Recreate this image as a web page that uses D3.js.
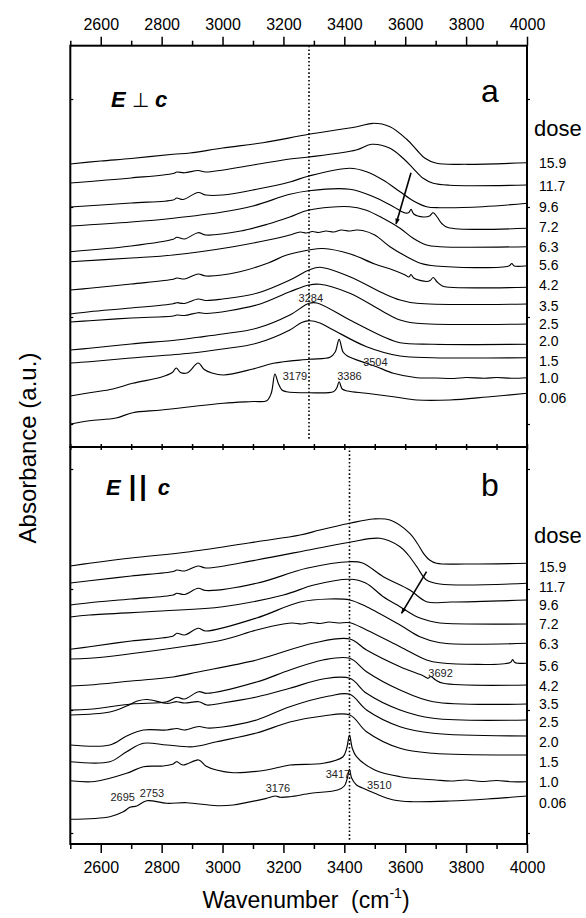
<!DOCTYPE html>
<html><head><meta charset="utf-8">
<script src="https://cdn.jsdelivr.net/npm/d3@7"></script>
<style>
body{margin:0;background:#fff}
svg{display:block}
text{font-family:"Liberation Sans",Arial,Helvetica,sans-serif;fill:#000}
</style>
</head><body>
<svg id="chart" width="586" height="918"></svg>
<script>
// ---------- DATA ----------
const doses = ["15.9","11.7","9.6","7.2","6.3","5.6","4.2","3.5","2.5","2.0","1.5","1.0","0.06"];
const xMajorTicks = [2600,2800,3000,3200,3400,3600,3800,4000];
const xMinorTicks = [2500,2700,2900,3100,3300,3500,3700,3900];
const yTicksA = [0.23,1.30,2.40,3.48];
const yTicksB = [0.11,1.34,2.55,3.75];
const doseLabelPosA = [2.843,2.61,2.403,2.203,2.003,1.82,1.62,1.41,1.23,1.063,0.863,0.693,0.493];
const doseLabelPosB = [2.773,2.573,2.39,2.20,2.00,1.78,1.58,1.397,1.217,1.017,0.817,0.623,0.413];

// Panel a: E perpendicular c  [wavenumber, absorbance]
const spectraA = [
 [[2500,2.83],[2600,2.86],[2700,2.885],[2838,2.927],[2893,2.94],[3000,2.99],[3133,3.043],[3284,3.127],[3441,3.203],[3494,3.237],[3550,3.203],[3605,3.077],[3638,2.97],[3665,2.887],[3703,2.837],[3802,2.827],[4000,2.843]],
 [[2500,2.64],[2700,2.69],[2838,2.735],[2850,2.75],[2875,2.742],[2920,2.765],[2945,2.75],[3100,2.82],[3221,2.88],[3284,2.90],[3439,2.97],[3490,3.027],[3550,2.987],[3593,2.887],[3626,2.787],[3659,2.687],[3692,2.637],[3747,2.617],[4000,2.62]],
 [[2500,2.40],[2700,2.44],[2838,2.47],[2850,2.49],[2870,2.475],[2920,2.545],[2945,2.52],[3000,2.52],[3112,2.577],[3221,2.65],[3284,2.71],[3418,2.787],[3473,2.753],[3527,2.67],[3583,2.553],[3626,2.463],[3670,2.403],[3714,2.393],[3855,2.403],[4000,2.437]],
 [[2500,2.21],[2700,2.25],[2838,2.288],[3000,2.35],[3100,2.41],[3221,2.527],[3284,2.563],[3418,2.577],[3496,2.503],[3561,2.403],[3600,2.34],[3612,2.345],[3619,2.377],[3628,2.33],[3660,2.30],[3680,2.31],[3692,2.343],[3705,2.30],[3720,2.235],[3740,2.195],[4000,2.187]],
 [[2500,1.953],[2700,2.01],[2838,2.077],[2850,2.097],[2875,2.08],[2920,2.143],[2945,2.12],[3060,2.16],[3150,2.23],[3221,2.30],[3284,2.37],[3418,2.403],[3470,2.37],[3527,2.287],[3583,2.187],[3626,2.087],[3670,2.02],[3714,2.003],[4000,2.003]],
 [[2500,1.853],[2700,1.89],[2838,1.92],[3035,2.003],[3150,2.07],[3221,2.12],[3255,2.15],[3275,2.14],[3295,2.155],[3315,2.145],[3340,2.16],[3365,2.15],[3390,2.17],[3415,2.16],[3440,2.17],[3460,2.165],[3500,2.12],[3550,2.003],[3605,1.903],[3650,1.837],[3700,1.81],[3940,1.81],[3950,1.835],[3958,1.81],[4000,1.813]],
 [[2500,1.57],[2563,1.587],[2700,1.63],[2838,1.677],[2850,1.69],[2875,1.68],[2920,1.73],[2945,1.71],[3057,1.753],[3150,1.84],[3211,1.92],[3284,1.97],[3330,1.985],[3420,1.93],[3500,1.83],[3560,1.77],[3600,1.72],[3612,1.70],[3619,1.725],[3628,1.69],[3670,1.655],[3682,1.665],[3692,1.695],[3705,1.65],[3722,1.61],[3745,1.597],[4000,1.597]],
 [[2500,1.33],[2563,1.353],[2700,1.39],[2838,1.433],[2850,1.443],[2875,1.435],[2920,1.48],[2945,1.465],[3000,1.48],[3112,1.537],[3221,1.67],[3284,1.77],[3320,1.797],[3418,1.703],[3528,1.537],[3583,1.47],[3638,1.437],[4000,1.43]],
 [[2500,1.25],[2563,1.263],[2700,1.29],[2838,1.31],[2850,1.32],[2875,1.315],[2920,1.343],[2945,1.335],[3112,1.42],[3221,1.553],[3284,1.62],[3320,1.627],[3418,1.537],[3528,1.353],[3583,1.27],[3638,1.237],[4000,1.23]],
 [[2500,0.97],[2563,0.987],[2700,1.03],[2850,1.07],[2920,1.097],[3000,1.13],[3112,1.187],[3221,1.32],[3284,1.437],[3310,1.44],[3418,1.27],[3528,1.103],[3583,1.043],[3690,1.027],[4000,1.027]],
 [[2500,0.84],[2563,0.853],[2700,0.89],[2892,0.937],[3000,0.98],[3112,1.037],[3221,1.17],[3260,1.245],[3287,1.263],[3320,1.24],[3364,1.17],[3473,1.003],[3583,0.91],[3690,0.893],[4000,0.893]],
 [[2500,0.51],[2563,0.543],[2640,0.58],[2705,0.637],[2800,0.70],[2835,0.745],[2848,0.79],[2862,0.745],[2885,0.743],[2920,0.84],[2940,0.775],[2965,0.74],[3003,0.72],[3100,0.78],[3167,0.837],[3284,0.877],[3353,0.897],[3370,0.95],[3383,1.077],[3396,0.95],[3410,0.91],[3473,0.837],[3506,0.803],[3561,0.737],[3638,0.693],[3700,0.69],[3760,0.685],[3800,0.695],[3860,0.688],[3900,0.695],[3950,0.688],[4000,0.693]],
 [[2500,0.23],[2563,0.263],[2650,0.29],[2705,0.343],[2800,0.37],[3003,0.437],[3100,0.455],[3145,0.463],[3160,0.537],[3172,0.73],[3183,0.637],[3195,0.57],[3210,0.553],[3284,0.543],[3364,0.553],[3375,0.59],[3383,0.653],[3393,0.58],[3410,0.56],[3473,0.537],[3561,0.503],[3638,0.47],[3747,0.47],[3870,0.50],[4000,0.537]]
];

// Panel b: E parallel c
const spectraB = [
 [[2500,2.78],[2563,2.807],[2700,2.86],[2893,2.923],[3112,3.023],[3255,3.09],[3320,3.14],[3418,3.207],[3495,3.25],[3550,3.24],[3615,3.107],[3640,3.005],[3660,2.907],[3680,2.84],[3703,2.807],[3800,2.80],[4000,2.807]],
 [[2500,2.61],[2563,2.633],[2700,2.68],[2838,2.725],[2850,2.74],[2875,2.73],[2920,2.78],[2945,2.76],[3112,2.84],[3300,2.95],[3418,3.017],[3517,3.057],[3583,2.973],[3610,2.89],[3638,2.773],[3670,2.64],[3714,2.60],[4000,2.607]],
 [[2500,2.39],[2563,2.413],[2700,2.45],[2838,2.49],[2850,2.507],[2875,2.495],[2920,2.557],[2945,2.535],[3112,2.607],[3276,2.757],[3418,2.823],[3460,2.81],[3528,2.673],[3615,2.54],[3670,2.423],[3750,2.42],[4000,2.44]],
 [[2500,2.27],[2563,2.29],[2800,2.33],[3001,2.373],[3200,2.49],[3300,2.59],[3418,2.647],[3470,2.61],[3528,2.473],[3583,2.373],[3638,2.273],[3680,2.23],[3714,2.21],[4000,2.20]],
 [[2500,1.947],[2563,1.973],[2700,2.03],[2838,2.08],[2850,2.107],[2875,2.09],[2920,2.157],[2945,2.13],[3112,2.26],[3255,2.42],[3350,2.45],[3418,2.44],[3473,2.373],[3583,2.19],[3648,2.073],[3714,2.013],[4000,2.007]],
 [[2500,1.85],[2563,1.857],[2838,1.96],[3000,2.04],[3112,2.14],[3200,2.20],[3230,2.21],[3260,2.20],[3290,2.215],[3320,2.205],[3350,2.22],[3380,2.21],[3418,2.213],[3473,2.14],[3583,1.973],[3670,1.84],[3714,1.813],[3945,1.815],[3953,1.845],[3960,1.815],[4000,1.807]],
 [[2500,1.58],[2563,1.59],[2700,1.63],[2838,1.67],[2920,1.72],[3112,1.84],[3300,2.01],[3418,2.05],[3473,1.94],[3583,1.773],[3660,1.68],[3675,1.657],[3684,1.675],[3700,1.64],[3725,1.607],[4000,1.59]],
 [[2500,1.34],[2563,1.347],[2700,1.40],[2817,1.423],[2850,1.467],[2875,1.45],[2922,1.523],[2948,1.507],[3112,1.62],[3221,1.74],[3330,1.84],[3418,1.857],[3473,1.723],[3583,1.54],[3692,1.423],[4000,1.40]],
 [[2500,1.29],[2630,1.32],[2685,1.38],[2720,1.43],[2753,1.445],[2817,1.407],[2850,1.423],[2875,1.41],[2922,1.423],[2948,1.39],[3000,1.41],[3112,1.47],[3221,1.557],[3330,1.65],[3418,1.657],[3473,1.507],[3583,1.34],[3692,1.257],[4000,1.24]],
 [[2500,0.99],[2630,0.99],[2685,1.08],[2740,1.14],[2817,1.14],[2850,1.155],[2875,1.14],[2922,1.175],[2950,1.16],[3000,1.17],[3112,1.24],[3221,1.373],[3350,1.48],[3418,1.497],[3473,1.34],[3583,1.173],[3692,1.107],[4000,1.08]],
 [[2500,0.823],[2630,0.823],[2685,0.923],[2740,1.007],[2817,0.99],[2904,0.973],[2981,1.023],[3112,1.11],[3221,1.22],[3330,1.28],[3418,1.29],[3473,1.123],[3583,0.957],[3692,0.907],[4000,0.89]],
 [[2500,0.633],[2580,0.625],[2685,0.707],[2740,0.773],[2805,0.78],[2838,0.80],[2849,0.823],[2870,0.79],[2922,0.84],[2945,0.78],[2980,0.74],[3035,0.713],[3145,0.74],[3221,0.79],[3331,0.807],[3395,0.87],[3408,0.96],[3417,1.09],[3426,0.96],[3440,0.873],[3500,0.74],[3583,0.673],[3700,0.64],[3750,0.63],[3800,0.64],[3850,0.625],[3900,0.635],[3950,0.622],[4000,0.623]],
 [[2500,0.247],[2630,0.273],[2674,0.323],[2696,0.367],[2718,0.38],[2751,0.433],[2817,0.407],[2882,0.413],[2981,0.383],[3035,0.39],[3145,0.457],[3174,0.48],[3190,0.467],[3221,0.473],[3291,0.507],[3378,0.54],[3400,0.58],[3410,0.66],[3417,0.747],[3424,0.66],[3440,0.59],[3460,0.56],[3500,0.507],[3562,0.44],[3624,0.423],[3747,0.43],[3870,0.45],[4000,0.48]]
];

// peak annotations: [text, wavenumber, absorbance]
const peakLabelsA = [["3284",3290,1.493],["3179",3238,0.71],["3386",3417,0.71],["3504",3502,0.853]];
const peakLabelsB = [["3692",3716,1.707],["3417",3379,0.70],["3510",3515,0.59],["3176",3182,0.557],["2695",2672,0.467],["2753",2768,0.507]];
// dotted reference lines: [wavenumber, from absorbance, to absorbance]
const refLineA = [3284, 4.013, 0.07];
const refLineB = [3417, 3.973, 0.04];
// dose-trend arrows: [[w1,A1],[w2,A2]]
const arrowA = [[3619,2.743],[3570,2.23]];
const arrowB = [[3670,2.723],[3588,2.307]];

// ---------- LAYOUT ----------
const X0 = 70.3, X1 = 527, TOP = 45.7, MID = 447, BOT = 844;
const svg = d3.select("#chart");
const x = d3.scaleLinear().domain([2500,4000]).range([X0,X1]);

svg.append("defs").append("marker")
  .attr("id","ah").attr("viewBox","0 0 10 10").attr("refX",9).attr("refY",5)
  .attr("markerWidth",6).attr("markerHeight",6).attr("markerUnits","userSpaceOnUse")
  .attr("orient","auto")
  .append("path").attr("d","M0,1.2 L10,5 L0,8.8 Z").attr("fill","#000");

function panel(cfg){
  const y = d3.scaleLinear().domain(cfg.domain).range([cfg.bottom, cfg.top]);
  const g = svg.append("g");
  const line = d3.line().x(d=>x(d[0])).y(d=>y(d[1])).curve(d3.curveCatmullRom.alpha(0.5));

  g.append("line")
    .attr("x1",x(cfg.ref[0])).attr("x2",x(cfg.ref[0]))
    .attr("y1",y(cfg.ref[1])).attr("y2",y(cfg.ref[2]))
    .attr("stroke","#000").attr("stroke-width",1.6).attr("stroke-dasharray","1.6,2.2");

  g.selectAll("path.spec").data(cfg.spectra).join("path")
    .attr("class","spec").attr("d",line)
    .attr("fill","none").attr("stroke","#000").attr("stroke-width",1.15);

  g.append("text").attr("x",534).attr("y",cfg.top+cfg.doseDy)
    .attr("font-size",22).text("dose");
  g.selectAll("text.dl").data(doses).join("text").attr("class","dl")
    .attr("x",539).attr("y",(d,i)=>y(cfg.labelPos[i])).attr("dy","0.36em")
    .attr("font-size",14).text(d=>d);

  g.selectAll("text.pk").data(cfg.peaks).join("text").attr("class","pk")
    .attr("x",d=>x(d[1])).attr("y",d=>y(d[2])).attr("dy","0.36em")
    .attr("text-anchor","middle").attr("font-size",11).style("fill","#222")
    .text(d=>d[0]);

  g.append("line")
    .attr("x1",x(cfg.arrow[0][0])).attr("y1",y(cfg.arrow[0][1]))
    .attr("x2",x(cfg.arrow[1][0])).attr("y2",y(cfg.arrow[1][1]))
    .attr("stroke","#000").attr("stroke-width",1.6).attr("marker-end","url(#ah)");

  g.append("text").attr("x",490).attr("y",cfg.top+cfg.letterDy)
    .attr("text-anchor","middle").attr("font-size",32).text(cfg.letter);

  g.append("g").attr("transform",`translate(${X0},0)`)
    .call(d3.axisRight(y).tickValues(cfg.yTicks).tickSize(3).tickFormat(""))
    .call(a=>a.select(".domain").remove())
    .call(a=>a.selectAll("line").attr("stroke-width",1.2));
  g.append("g").attr("transform",`translate(${X1},0)`)
    .call(d3.axisRight(y).tickValues(cfg.yTicks).tickSize(3).tickFormat(""))
    .call(a=>a.select(".domain").remove())
    .call(a=>a.selectAll("line").attr("stroke-width",1.2));

  g.append("rect").attr("x",X0).attr("y",cfg.top).attr("width",X1-X0).attr("height",cfg.bottom-cfg.top)
    .attr("fill","none").attr("stroke","#000").attr("stroke-width",2);
  return y;
}

panel({spectra:spectraA, domain:[0,(MID-TOP)/100], top:TOP, bottom:MID, ref:refLineA,
  labelPos:doseLabelPosA, peaks:peakLabelsA, arrow:arrowA, letter:"a", letterDy:56, doseDy:90,
  yTicks:yTicksA});
panel({spectra:spectraB, domain:[0,(BOT-MID)/100], top:MID, bottom:BOT, ref:refLineB,
  labelPos:doseLabelPosB, peaks:peakLabelsB, arrow:arrowB, letter:"b", letterDy:49, doseDy:96,
  yTicks:yTicksB});

function styleAxis(a){ a.select(".domain").remove(); a.selectAll("line").attr("stroke-width",1.5);
  a.selectAll("text").attr("font-size",16).style("font-family",'"Liberation Sans",Arial,sans-serif'); }
svg.append("g").attr("transform",`translate(0,${TOP})`)
  .call(d3.axisTop(x).tickValues(xMajorTicks).tickSize(9).tickPadding(6.5).tickFormat(d3.format("d"))).call(styleAxis);
svg.append("g").attr("transform",`translate(0,${TOP})`)
  .call(d3.axisTop(x).tickValues(xMinorTicks).tickSize(5).tickFormat("")).call(styleAxis);
svg.append("g").attr("transform",`translate(0,${BOT})`)
  .call(d3.axisBottom(x).tickValues(xMajorTicks).tickSize(9).tickPadding(8.5).tickFormat(d3.format("d"))).call(styleAxis);
svg.append("g").attr("transform",`translate(0,${BOT})`)
  .call(d3.axisBottom(x).tickValues(xMinorTicks).tickSize(5).tickFormat("")).call(styleAxis);
svg.append("g").attr("transform",`translate(0,${MID})`)
  .call(d3.axisTop(x).tickValues(xMajorTicks.concat(xMinorTicks)).tickSize(3).tickFormat("")).call(styleAxis);
svg.append("g").attr("transform",`translate(0,${MID})`)
  .call(d3.axisBottom(x).tickValues(xMajorTicks.concat(xMinorTicks)).tickSize(3).tickFormat("")).call(styleAxis);

const pa = svg.append("text").attr("x",111).attr("y",107).attr("font-size",22);
pa.append("tspan").attr("font-weight","bold").attr("font-style","italic").text("E");
pa.append("tspan").attr("dx",6).style("font-family","'DejaVu Sans',sans-serif").attr("font-size",20).text("\u22A5");
pa.append("tspan").attr("dx",6).attr("font-weight","bold").attr("font-style","italic").text("c");

const pb = svg.append("text").attr("x",106).attr("y",495).attr("font-size",22);
pb.append("tspan").attr("font-weight","bold").attr("font-style","italic").text("E");
pb.append("tspan").attr("dx",8).attr("font-weight","bold").attr("font-size",27).attr("letter-spacing",3).text("||");
pb.append("tspan").attr("dx",8).attr("font-weight","bold").attr("font-style","italic").text("c");

const xt = svg.append("text").attr("x",306).attr("y",908).attr("text-anchor","middle")
  .attr("font-size",23).style("white-space","pre");
xt.append("tspan").text("Wavenumber  (cm");
xt.append("tspan").attr("dy",-10).attr("font-size",14).text("-1");
xt.append("tspan").attr("dy",10).text(")");

svg.append("text").attr("transform","translate(36,448) rotate(-90)")
  .attr("text-anchor","middle").attr("font-size",24).text("Absorbance (a.u.)");
</script>
</body></html>
